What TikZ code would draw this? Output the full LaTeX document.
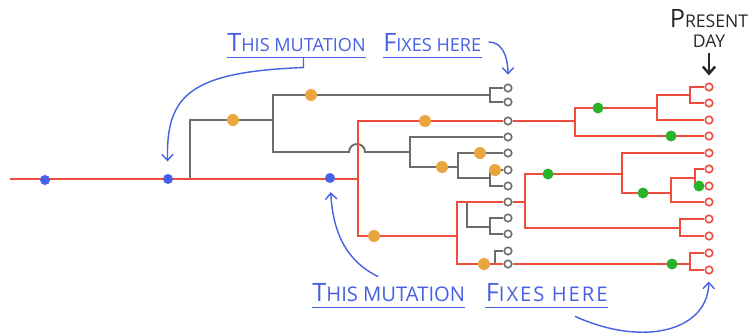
\documentclass[tikz,border=0pt]{standalone}
\usepackage{fontspec}
\newfontfamily\handfont{Open Sans}
\newfontfamily\handwide[LetterSpace=10]{Open Sans}
\usepackage{tikz}
\usetikzlibrary{positioning, arrows.meta}
\definecolor{lineage}{RGB}{238,76,60}
\definecolor{extinct}{RGB}{108,110,106}
\definecolor{mutorange}{RGB}{233,166,62}
\definecolor{mutgreen}{RGB}{42,178,42}
\definecolor{mutblue}{RGB}{72,96,232}
\definecolor{penblue}{RGB}{72,96,226}
\definecolor{penblack}{RGB}{40,40,40}
\newcommand{\firstbig}[2]{{\Large #1}#2}

\begin{document}
\begin{tikzpicture}[x=0.02cm, y=-0.02cm]
	% Define styles
	\tikzset{
		live/.style={draw=lineage, line width=1.1pt},
		lost/.style={draw=extinct, line width=1.1pt},
		leaf/.style={circle, draw, fill=white, line width=0.9pt, minimum size=0.15cm, inner sep=0pt},
		liveleaf/.style={leaf, draw=lineage},
		lostleaf/.style={leaf, draw=extinct},
		mut/.style={circle, inner sep=0pt, minimum size=0.22cm},
		bluemut/.style={mut, fill=mutblue, minimum size=0.2cm},
		orangemut/.style={mut, fill=mutorange, minimum size=0.24cm},
		greenmut/.style={mut, fill=mutgreen},
		note/.style={draw=penblue, line width=0.8pt},
		notearrow/.style={note, -{Straight Barb[length=3.5pt, width=6.5pt]}},
		notetext/.style={font=\handfont\fontsize{10.3}{12}\selectfont, text=penblue, inner xsep=0pt, inner ysep=3.4pt},
		bignote/.style={font=\handfont\fontsize{11.5}{13}\selectfont},
		widenote/.style={font=\handwide\fontsize{11.5}{13}\selectfont}
	}
	\useasboundingbox (0,0) rectangle (750,335);
	
	% Junctions
	\coordinate (start) at (10,179);
	\coordinate (j0) at (358,179);
	\coordinate (a) at (190,179);
	\coordinate (b) at (273,120);
	\coordinate (c) at (490,95);
	\coordinate (hump) at (349,152);
	\coordinate (d) at (410,152);
	\coordinate (e) at (458,167);
	\coordinate (f) at (490,178);
	\coordinate (j1) at (575,121);
	\coordinate (j2) at (657,108);
	\coordinate (j3) at (690,95);
	\coordinate (k) at (457,236);
	\coordinate (l) at (525,202);
	\coordinate (m) at (690,264);
	\coordinate (n) at (622,174);
	\coordinate (q) at (671,193);
	\coordinate (s) at (695,178);
	\coordinate (p) at (680,228);
	\coordinate (h1) at (467,202);
	\coordinate (h2) at (490,227);
	\coordinate (h3) at (495,264);
	
	% Tips
	\node[lostleaf] (g1) at (508,88) {};
	\node[lostleaf] (g2) at (508,102) {};
	\node[lostleaf] (g3) at (508,121) {};
	\node[lostleaf] (g4) at (508,137) {};
	\node[lostleaf] (g5) at (508,153) {};
	\node[lostleaf] (g6) at (508,170) {};
	\node[lostleaf] (g7) at (508,186) {};
	\node[lostleaf] (g8) at (508,202) {};
	\node[lostleaf] (g9) at (508,218) {};
	\node[lostleaf] (g10) at (508,234) {};
	\node[lostleaf] (g11) at (508,251) {};
	\node[lostleaf] (g12) at (508,264) {};
	
	\node[liveleaf] (r1) at (709,87) {};
	\node[liveleaf] (r2) at (709,103) {};
	\node[liveleaf] (r3) at (709,120) {};
	\node[liveleaf] (r4) at (709,136) {};
	\node[liveleaf] (r5) at (709,153) {};
	\node[liveleaf] (r6) at (709,169) {};
	\node[liveleaf] (r7) at (709,186) {};
	\node[liveleaf] (r8) at (709,202) {};
	\node[liveleaf] (r9) at (709,219) {};
	\node[liveleaf] (r10) at (709,236) {};
	\node[liveleaf] (r11) at (709,253) {};
	\node[liveleaf] (r12) at (709,270) {};
	
	% Lost lineages
	\draw[lost] (a) |- (b);
	\draw[lost] (b) |- (c);
	\draw[lost] (c) |- (g1);
	\draw[lost] (c) |- (g2);
	\draw[lost] (b) |- (hump) arc[start angle=180, end angle=0, radius=0.16cm] -- (d);
	\draw[lost] (d) |- (g4);
	\draw[lost] (d) |- (e);
	\draw[lost] (e) |- (g5);
	\draw[lost] (e) |- (f);
	\draw[lost] (f) |- (g6);
	\draw[lost] (f) |- (g7);
	\draw[lost] (h1) |- (h2);
	\draw[lost] (h2) |- (g9);
	\draw[lost] (h2) |- (g10);
	\draw[lost] (h3) |- (g11);
	
	% Surviving lineage
	\draw[live] (start) -- (j0);
	\draw[live] (j0) |- (g3);
	\draw[live] (g3) -- (j1);
	\draw[live] (j1) |- (j2);
	\draw[live] (j1) |- (r4);
	\draw[live] (j2) |- (j3);
	\draw[live] (j2) |- (r3);
	\draw[live] (j3) |- (r1);
	\draw[live] (j3) |- (r2);
	\draw[live] (j0) |- (k);
	\draw[live] (k) |- (g8);
	\draw[live] (g8) -- (l);
	\draw[live] (k) |- (g12);
	\draw[live] (g12) -- (m);
	\draw[live] (l) |- (n);
	\draw[live] (l) |- (p);
	\draw[live] (n) |- (r5);
	\draw[live] (n) |- (q);
	\draw[live] (q) |- (s);
	\draw[live] (q) |- (r8);
	\draw[live] (s) |- (r6);
	\draw[live] (s) |- (r7);
	\draw[live] (p) |- (r9);
	\draw[live] (p) |- (r10);
	\draw[live] (m) |- (r11);
	\draw[live] (m) |- (r12);
	
	% Mutations
	\node[bluemut] (b1) at (45,180) {};
	\node[bluemut] (b2) at (168,179) {};
	\node[bluemut] (b3) at (330,178) {};
	
	\node[orangemut] (o1) at (233,120) {};
	\node[orangemut] (o2) at (311,95) {};
	\node[orangemut] (o3) at (425,121) {};
	\node[orangemut] (o4) at (442,167) {};
	\node[orangemut] (o5) at (480,153) {};
	\node[orangemut] (o6) at (495,170) {};
	\node[orangemut] (o7) at (374,236) {};
	\node[orangemut] (o8) at (484,264) {};
	
	\node[greenmut] (m1) at (598,108) {};
	\node[greenmut] (m2) at (671,136) {};
	\node[greenmut] (m3) at (548,174) {};
	\node[greenmut] (m4) at (643,193) {};
	\node[greenmut] (m5) at (699,186) {};
	\node[greenmut] (m6) at (672,264) {};
	
	% Notes
	\node[notetext, anchor=base west] (top1) at (227,51) {\firstbig{T}{HIS} MUTATION};
	\node[notetext, base right=0.34cm of top1] (top2) {\firstbig{F}{IXES} HERE};
	\node[notetext, bignote, anchor=base west] (bot1) at (312,301) {\firstbig{T}{HIS} MUTATION};
	\node[notetext, widenote, base right=0.4cm of bot1] (bot2) {\firstbig{F}{IXES} HERE};
	\node[font=\handfont\fontsize{10}{11.3}\selectfont, text=penblack, align=center, inner sep=0pt, anchor=north] (today) at (709,9) {\firstbig{P}{RESENT}\\DAY};
	
	\draw[note] (top1.south west) -- (top1.south east);
	\draw[note] (top2.south west) -- (top2.south east);
	\draw[note] (bot1.south west) -- (bot1.south east);
	\draw[note] (bot2.south west) -- (bot2.south east);
	
	% Arrows
	\draw[notearrow, shorten >=7pt] ([xshift=4pt]top1.south) -- ++(0,10) .. controls (190,72) and (166,95) .. (b2);
	\draw[notearrow, shorten >=5pt] ([xshift=4pt]top2.east) to[out=0, in=90] (g1);
	\draw[notearrow, shorten >=5pt] ([xshift=-6pt]bot1.north) .. controls (348,262) and (333,235) .. (b3);
	\draw[notearrow, shorten >=4pt] ([xshift=16pt, yshift=-5pt]bot2.south) .. controls (645,348) and (708,330) .. (r12);
	\draw[penblack, line width=1.4pt, -{Straight Barb[length=4pt, width=7pt]}, shorten <=3pt, shorten >=4pt] (today.south) -- (r1);
	
\end{tikzpicture}
\end{document}
